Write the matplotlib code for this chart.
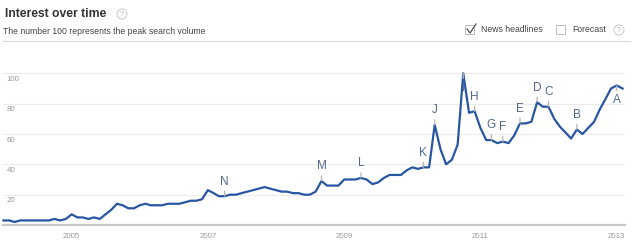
import pandas as pd
import matplotlib
matplotlib.use("Agg")
import matplotlib.pyplot as plt
from matplotlib.patches import Rectangle, Circle

plt.rcParams['font.family'] = ['Liberation Sans', 'DejaVu Sans']

# monthly search interest, Jan 2004 - Feb 2013
months = pd.date_range('2004-01-01', periods=110, freq='MS')
interest = [3, 3, 2, 3, 3, 3, 3, 3, 3, 4, 3, 4,
            7, 5, 5, 4, 5, 4, 7, 10, 14, 13, 11, 11,
            13, 14, 13, 13, 13, 14, 14, 14, 15, 16, 16, 17,
            23, 21, 19, 19, 20, 20, 21, 22, 23, 24, 25, 24,
            23, 22, 22, 21, 21, 20, 20, 22, 29, 26, 26, 26,
            30, 30, 30, 31, 30, 27, 28, 31, 33, 33, 33, 36,
            38, 37, 38, 38, 66, 50, 40, 43, 53, 100, 74, 75,
            64, 56, 56, 54, 55, 54, 59, 67, 67, 68, 81, 78,
            78, 70, 65, 61, 57, 63, 60, 64, 68, 76, 83, 90,
            92, 90]

# news headline flags: letter, month index, drawn below the line?
flag_letters = ['N', 'M', 'L', 'K', 'J', 'I', 'H', 'G', 'F', 'E', 'D', 'C', 'B', 'A']
flag_index = [39, 56, 63, 74, 76, 81, 83, 86, 88, 91, 94, 96, 101, 108]
flag_below = ['I', 'A']

year_ticks = ['2005', '2007', '2009', '2011', '2013']
y_ticks = [20, 40, 60, 80, 100]

W, H = 640, 245
fig = plt.figure(figsize=(W / 100, H / 100), dpi=100)
fig.patch.set_facecolor('white')

# chart area (pixel box 3..625 x 65..225)
ax = fig.add_axes([3 / W, 1 - 225 / H, 622 / W, 160 / H])
ax.set_xlim(pd.Timestamp('2003-12-30'), pd.Timestamp('2013-02-14'))
ax.set_ylim(0, 105.5)
for s in ax.spines.values():
    s.set_visible(False)

for v in y_ticks:
    ax.axhline(v, color='#ebebeb', lw=0.8, zorder=1)
    ax.annotate(str(v), xy=(0, v), xycoords=('axes fraction', 'data'),
                xytext=(2.5, -4.5), textcoords='offset points',
                ha='left', va='center', fontsize=5.7, color='#999999')
ax.axhline(0, color='#c8c8c8', lw=1.6, zorder=1, clip_on=False)

ax.plot(months, interest, color='#2856a3', lw=1.6, zorder=3,
        solid_joinstyle='round', clip_on=False)

for letter, i in zip(flag_letters, flag_index):
    dy = -10.5 if letter in flag_below else 10.5
    ax.annotate(letter, xy=(months[i], interest[i]), xytext=(0, dy),
                textcoords='offset points', ha='center', va='center',
                fontsize=8.5, color='#52668f', zorder=4,
                arrowprops=dict(arrowstyle='-', color='#b5b5b5', lw=0.9,
                                shrinkA=0.5, shrinkB=0))

ax.set_yticks([])
ax.set_xticks([pd.Timestamp(y + '-01-01') for y in year_ticks])
ax.set_xticklabels(year_ticks, fontsize=5.7, color='#999999')
ax.tick_params(axis='x', length=0, pad=5.5)

# header, drawn in pixel units
hd = fig.add_axes([0, 0, 1, 1], zorder=-1)
hd.set_xlim(0, W)
hd.set_ylim(H, 0)
hd.axis('off')

hd.text(5, 14, 'Interest over time', fontsize=8.7, fontweight='bold',
        color='#333333', va='center', ha='left')
hd.text(3, 31, 'The number 100 represents the peak search volume',
        fontsize=6.2, color='#444444', va='center', ha='left')
hd.plot([3, 630], [41.5, 41.5], color='#d9d9d9', lw=0.8)

for cx, cy in [(122, 14), (619, 30)]:
    hd.add_patch(Circle((cx, cy), 5, fc='white', ec='#c8c8c8', lw=0.7))
    hd.text(cx, cy + 0.3, '?', fontsize=5, color='#b0b0b0', ha='center', va='center')

hd.add_patch(Rectangle((465, 25), 9, 9, fc='white', ec='#bdbdbd', lw=0.7))
hd.plot([467, 470, 476], [29, 33, 24], color='#505050', lw=0.9)
hd.text(481, 30, 'News headlines', fontsize=6.2, color='#444444', va='center', ha='left')

hd.add_patch(Rectangle((556, 25), 9, 9, fc='white', ec='#bdbdbd', lw=0.7))
hd.text(572, 30, 'Forecast', fontsize=6.2, color='#444444', va='center', ha='left')

fig.savefig('out.png', dpi=100, facecolor='white')
